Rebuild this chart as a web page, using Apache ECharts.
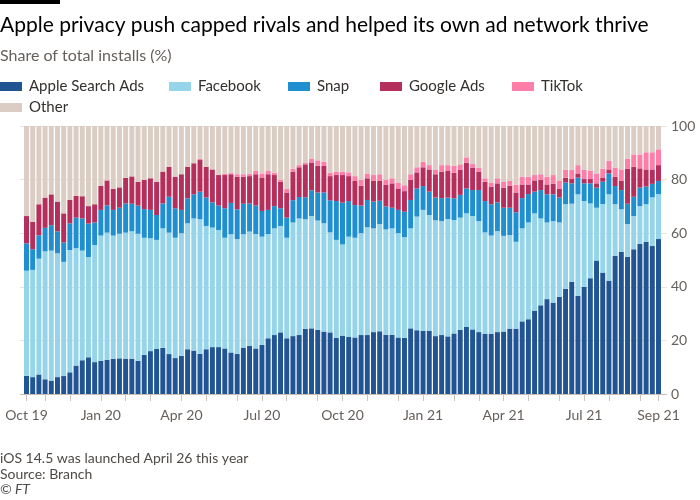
<!DOCTYPE html>
<html><head><meta charset="utf-8">
<script src="https://cdn.jsdelivr.net/npm/echarts@6/dist/echarts.min.js"></script>
<style>html,body{margin:0;padding:0;background:#fff}#c{width:700px;height:500px}</style>
</head><body><div id="c"></div>
<script>
const weeks = [
'2019-10-13','2019-10-20','2019-10-27','2019-11-03','2019-11-10','2019-11-17','2019-11-24','2019-12-01','2019-12-08','2019-12-15','2019-12-22','2019-12-29',
'2020-01-05','2020-01-12','2020-01-19','2020-01-26','2020-02-02','2020-02-09','2020-02-16','2020-02-23','2020-03-01','2020-03-08','2020-03-15','2020-03-22','2020-03-29',
'2020-04-05','2020-04-12','2020-04-19','2020-04-26','2020-05-03','2020-05-10','2020-05-17','2020-05-24','2020-05-31','2020-06-07','2020-06-14','2020-06-21','2020-06-28',
'2020-07-05','2020-07-12','2020-07-19','2020-07-26','2020-08-02','2020-08-09','2020-08-16','2020-08-23','2020-08-30','2020-09-06','2020-09-13','2020-09-20','2020-09-27',
'2020-10-04','2020-10-11','2020-10-18','2020-10-25','2020-11-01','2020-11-08','2020-11-15','2020-11-22','2020-11-29','2020-12-06','2020-12-13','2020-12-20','2020-12-27',
'2021-01-03','2021-01-10','2021-01-17','2021-01-24','2021-01-31','2021-02-07','2021-02-14','2021-02-21','2021-02-28','2021-03-07','2021-03-14','2021-03-21','2021-03-28',
'2021-04-04','2021-04-11','2021-04-18','2021-04-25','2021-05-02','2021-05-09','2021-05-16','2021-05-23','2021-05-30','2021-06-06','2021-06-13','2021-06-20','2021-06-27',
'2021-07-04','2021-07-11','2021-07-18','2021-07-25','2021-08-01','2021-08-08','2021-08-15','2021-08-22','2021-08-29','2021-09-05','2021-09-12','2021-09-19','2021-09-26'
];
const apple = [6.8,6.3,7.3,5.5,5.0,6.3,6.7,8.1,10.6,12.6,13.7,11.9,12.4,12.8,13.1,13.3,13.2,13.2,12.4,14.6,16.0,16.8,17.2,14.9,13.4,
14.2,16.7,16.2,15.0,16.7,17.5,17.5,17.0,15.5,15.0,17.3,17.9,17.0,18.3,20.8,22.0,23.0,20.8,21.6,22.0,24.3,24.5,23.9,23.3,23.0,21.0,
21.8,21.4,21.1,22.0,22.0,23.1,23.4,22.1,22.1,21.1,21.0,24.5,23.8,23.5,23.5,21.6,22.0,21.5,22.6,23.9,25.0,24.1,23.1,22.5,22.5,23.1,
23.3,24.4,24.4,27.1,27.9,31.1,33.1,35.4,34.1,36.3,39.2,41.9,36.6,40.0,43.2,49.8,45.3,42.3,51.6,53.1,51.2,54.0,56.0,56.8,55.2,57.8];
const facebook = [39.2,40.0,43.2,47.7,48.5,46.2,42.6,45.6,43.8,40.9,37.4,43.7,46.7,47.4,46.0,46.5,47.0,47.5,47.4,43.7,42.1,40.7,44.6,45.3,44.9,
45.8,47.0,49.3,50.2,46.0,44.6,43.7,41.3,44.1,42.8,42.3,42.7,42.7,40.4,38.9,39.8,39.7,37.5,42.4,43.5,40.9,41.9,40.8,40.4,37.3,36.5,
34.0,37.3,37.2,38.0,40.2,38.7,40.0,39.3,39.7,38.9,37.5,37.3,42.4,45.2,43.3,43.2,42.5,43.8,42.3,41.9,42.4,42.3,41.4,37.8,36.6,37.7,
35.7,34.9,32.4,34.7,36.1,36.3,32.4,28.6,30.4,27.7,31.6,29.1,37.9,32.0,27.9,19.7,25.6,32.2,19.2,15.8,12.2,12.4,14.1,14.0,18.2,16.8];
const snap = [10.2,7.7,8.7,8.8,9.5,8.2,7.2,10.0,11.4,12.0,12.5,8.4,9.6,10.2,9.6,9.7,10.9,10.3,10.5,10.7,10.6,9.3,9.3,13.4,11.0,
8.7,9.3,9.0,10.3,10.6,9.4,9.1,11.0,11.7,11.1,11.4,10.5,10.6,9.6,9.0,8.3,6.6,7.5,8.3,8.0,8.2,9.6,10.5,11.5,12.0,14.5,
15.6,13.3,12.2,10.3,10.2,10.0,8.7,8.6,7.7,8.7,9.5,10.6,10.5,8.9,8.7,8.5,8.6,8.0,8.1,8.5,9.3,9.7,11.6,11.7,11.7,10.7,
10.5,10.2,11.0,11.3,10.6,8.1,10.6,10.5,10.0,9.3,8.1,7.6,6.2,6.6,7.5,7.5,8.3,7.8,6.8,7.2,7.6,7.2,6.9,6.6,5.0,4.9];
const google = [10.2,10.3,11.6,11.3,11.5,11.1,10.9,8.7,8.1,8.3,6.5,6.8,9.0,9.3,7.8,7.6,9.6,10.2,8.9,10.9,11.8,12.4,11.9,11.2,11.8,
13.3,11.8,11.6,11.8,11.5,12.3,11.4,12.4,10.7,12.2,10.1,10.2,11.7,12.5,13.3,11.6,9.9,9.4,10.7,11.1,12.3,10.4,9.9,9.9,9.0,9.7,
10.3,9.3,9.0,7.4,8.1,7.7,7.4,8.0,9.1,8.0,7.7,7.5,6.0,7.0,8.3,8.7,9.9,9.9,9.6,9.3,9.6,8.4,6.9,7.2,6.6,7.1,
7.5,8.2,7.4,5.1,3.6,4.2,3.8,3.7,4.0,3.2,1.8,1.6,1.6,1.6,1.6,1.6,1.6,1.5,3.5,3.4,13.0,11.2,7.2,6.4,5.4,5.9];
const tiktok = [0,0,0,0,0,0,0,0,0,0,0,0,0,0,0,0,0,0,0,0,0,0,0,0,0,
0,0,0,0.4,0,0,0,0.4,0.4,0.9,0.9,0.9,1.2,1.5,1.2,0.9,0.7,1.3,1.0,0.8,0.7,1.5,2.1,1.5,1.2,1.3,
1.3,1.4,1.8,2.2,1.8,2.2,2.5,1.9,1.9,2.2,2.2,2.1,1.9,2.0,1.6,1.8,2.4,2.2,2.5,2.1,2.0,1.3,1.5,1.3,1.5,1.9,
2.1,1.8,2.8,2.8,2.8,2.0,2.1,2.8,3.2,3.2,2.9,3.4,3.1,3.4,3.0,3.7,3.2,3.2,3.4,4.3,3.9,4.6,5.2,6.4,6.4,5.9];
const other = [33.6,35.7,29.2,26.7,25.5,28.2,32.6,27.6,26.1,26.2,29.9,29.2,22.3,20.3,23.5,22.9,19.3,18.8,20.8,20.1,19.5,20.8,17.0,15.2,18.9,
18.0,15.2,13.9,12.3,15.2,16.2,18.3,17.9,17.6,18.0,18.0,17.8,16.8,17.7,16.8,17.4,20.1,23.5,16.0,14.6,13.6,12.1,12.8,13.4,17.5,17.0,
17.0,17.3,18.7,20.1,17.7,18.3,18.0,20.1,19.5,21.1,22.1,18.0,15.4,13.4,14.6,16.2,14.6,14.6,14.9,14.3,11.7,14.2,15.5,19.5,21.1,19.5,
20.9,20.5,22.0,19.0,19.0,18.3,18.0,19.0,18.3,20.3,16.4,16.4,14.6,16.4,16.8,17.7,16.0,13.0,15.5,16.2,12.1,10.6,10.6,9.8,9.8,8.7];
const labelWeeks = ['2019-10-13','2020-01-05','2020-04-05','2020-07-05','2020-10-04','2021-01-03','2021-04-04','2021-07-04','2021-09-26'];
const labelTexts = ['Oct 19','Jan 20','Apr 20','Jul 20','Oct 20','Jan 21','Apr 21','Jul 21','Sep 21'];
const tickWeeks = ['2019-10-13','2019-11-03','2019-12-01','2020-01-05','2020-02-02','2020-03-01','2020-04-05','2020-05-03','2020-06-07',
'2020-07-05','2020-08-02','2020-09-06','2020-10-04','2020-11-01','2020-12-06','2021-01-03','2021-02-07','2021-03-07','2021-04-04',
'2021-05-02','2021-06-06','2021-07-04','2021-08-01','2021-09-05','2021-09-26'];
const yTicks = [0, 20, 40, 60, 80, 100];

const names = ['Apple Search Ads','Facebook','Snap','Google Ads','TikTok','Other'];
const colors = ['#215493','#96d5e9','#1f8fd0','#b42f5c','#fd7fa8','#dbcdc3'];
const seriesData = [apple, facebook, snap, google, tiktok, other];
const legendPos = [[0,77.5],[169,77.5],[288,77.5],[380,77.5],[512,77.5],[0,98.5]];
const FONT = 'Lato';
const GREY = '#66605c';
const DARK = '#33302e';

const chart = echarts.init(document.getElementById('c'), null, {renderer: 'canvas'});
chart.setOption({
  animation: false,
  backgroundColor: '#ffffff',
  textStyle: {fontFamily: FONT},
  graphic: [
    {type: 'rect', shape: {x: 0, y: 0, width: 60, height: 4}, style: {fill: '#000000'}},
    {type: 'text', x: 0, y: 25, style: {text: 'Apple privacy push capped rivals and helped its own ad network thrive', font: '21px ' + FONT, fill: '#000000', verticalAlign: 'middle'}},
    {type: 'text', x: 0, y: 56, style: {text: 'Share of total installs (%)', font: '16px ' + FONT, fill: GREY, verticalAlign: 'middle'}},
    {type: 'text', x: 0, y: 458.5, style: {text: 'iOS 14.5 was launched April 26 this year', font: '14px ' + FONT, fill: '#4e4a47', verticalAlign: 'middle'}},
    {type: 'text', x: 0, y: 474, style: {text: 'Source: Branch', font: '14px ' + FONT, fill: '#4e4a47', verticalAlign: 'middle'}},
    {type: 'text', x: 0, y: 489, style: {text: '\u00a9 FT', font: 'italic 14px ' + FONT, fill: '#4e4a47', verticalAlign: 'middle'}}
  ],
  legend: names.map((n, i) => ({
    data: [n], left: legendPos[i][0], top: legendPos[i][1], padding: 0, itemGap: 0,
    itemWidth: 22, itemHeight: 9, icon: 'rect', selectedMode: false,
    textStyle: {fontFamily: FONT, fontSize: 15, color: DARK, lineHeight: 18, padding: [0, 0, 0, 2]}
  })),
  grid: [
    {left: 20, right: 33, top: 126, bottom: 106},
    {left: 23.4, right: 38.4, top: 126, bottom: 106}
  ],
  xAxis: [
    {gridIndex: 0, type: 'value', min: 0, max: 1, show: false},
    {gridIndex: 1, type: 'category', data: weeks, boundaryGap: true,
     axisLine: {show: false},
     axisTick: {show: true, alignWithLabel: true, length: 7, interval: (i, v) => tickWeeks.includes(v), lineStyle: {color: '#cfc4ba'}},
     axisLabel: {interval: (i, v) => labelWeeks.includes(v), formatter: v => labelTexts[labelWeeks.indexOf(v)] || '',
       fontFamily: FONT, fontSize: 14, color: GREY, margin: 14}}
  ],
  yAxis: [
    {gridIndex: 0, type: 'value', min: yTicks[0], max: yTicks[yTicks.length - 1], interval: 20, position: 'right',
     axisLine: {show: false}, axisTick: {show: false},
     axisLabel: {margin: 4, fontFamily: FONT, fontSize: 14, color: GREY},
     splitLine: {show: true, lineStyle: {color: ['#c9bdb3', '#ebe3dc', '#ebe3dc', '#ebe3dc', '#ebe3dc', '#ebe3dc'], width: 1}}},
    {gridIndex: 1, type: 'value', min: 0, max: 100, show: false}
  ],
  series: names.map((n, i) => ({
    name: n, type: 'bar', stack: 'total', xAxisIndex: 1, yAxisIndex: 1,
    barCategoryGap: '20%', data: seriesData[i], itemStyle: {color: colors[i]}
  }))
});
</script></body></html>
